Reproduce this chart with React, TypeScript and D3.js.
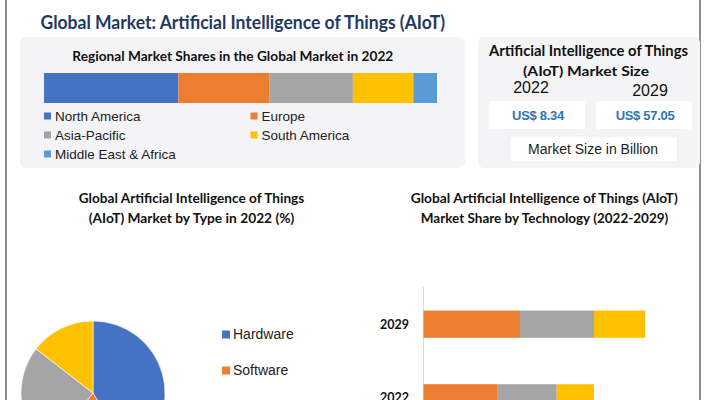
import React from "react";
import * as d3 from "d3";

const regions = ["North America", "Europe", "Asia-Pacific", "South America", "Middle East & Africa"];
const regionShares = [34.2, 23.2, 21.2, 15.4, 6.0];
const regionColors = ["#4472c4", "#ed7d31", "#a5a5a5", "#ffc000", "#5b9bd5"];

const sizeYears = ["2022", "2029"];
const sizeValues = [8.34, 57.05];

const types = ["Hardware", "Software", "Services", "Platform"];
const typeShares = [41.5, 19, 25, 14.5];
const typeColors = ["#4472c4", "#ed7d31", "#a5a5a5", "#ffc000"];

const techYears = ["2029", "2022"];
const techSeries = ["Machine Learning", "Computer Vision", "Others"];
const techColors = ["#ed7d31", "#a5a5a5", "#ffc000"];
const techValues = [
  [38.6, 29.6, 20.4],
  [29.7, 23.6, 14.9],
];

const BOLD = "Lato, 'Open Sans', sans-serif";
const SANS = "'Liberation Sans', Arial, sans-serif";

type TProps = { x: number; y: number; w: number; size: number; children: React.ReactNode; fill?: string };
function Title({ x, y, w, size, children, fill = "#111" }: TProps) {
  return (
    <text x={x} y={y} textLength={w} lengthAdjust="spacingAndGlyphs" dominantBaseline="central" fontFamily={BOLD} fontWeight={700} fontSize={size} fill={fill}>
      {children}
    </text>
  );
}

export default function App() {
  const rx = d3.scaleLinear().domain([0, d3.sum(regionShares)]).range([44, 437]);
  const cum: number[] = [];
  regionShares.reduce((a, v, i) => { cum[i] = a; return a + v; }, 0);

  const pie = d3.pie<number>().sort(null).value((d) => d)(typeShares);
  const arc = d3.arc<d3.PieArcDatum<number>>().innerRadius(0).outerRadius(72);

  const ty = d3.scaleBand().domain(techYears).range([287, 435]).paddingInner(0.63).paddingOuter(0.32);
  const tx = d3.scaleLinear().domain([0, 100]).range([423.5, 673.5]);

  const legendRowY = d3.scaleLinear().domain([0, 1]).range([116, 135]);

  return (
    <svg width={708} height={400} style={{ position: "absolute", left: 0, top: 0, background: "#fff" }}>
      <rect x={0} y={0} width={708} height={400} fill="#fff" />
      <line x1={6} y1={0} x2={6} y2={400} stroke="#444" strokeWidth={1.2} />
      <line x1={700} y1={0} x2={700} y2={400} stroke="#444" strokeWidth={1.2} />

      <Title x={40.5} y={21.5} w={404.5} size={18.5} fill="#1f3864">
        Global Market: Artificial Intelligence of Things (AIoT)
      </Title>

      {/* Regional panel */}
      <rect x={20} y={37} width={445} height={131} rx={6} fill="#f4f4f6" />
      <Title x={72.3} y={55} w={321} size={14}>Regional Market Shares in the Global Market in 2022</Title>
      {regionShares.map((v, i) => (
        <rect key={regions[i]} x={rx(cum[i])} y={73} width={rx(cum[i] + v) - rx(cum[i])} height={30} fill={regionColors[i]} />
      ))}
      {regions.map((r, i) => {
        const col = i % 2;
        const row = Math.floor(i / 2);
        const x = col === 0 ? 44 : 250.5;
        const y = legendRowY(row);
        return (
          <g key={r}>
            <rect x={x} y={y - 3.5} width={7} height={7} fill={regionColors[i]} />
            <text x={x + 11} y={y} dominantBaseline="central" fontFamily={SANS} fontSize={13.5} fill="#222">{r}</text>
          </g>
        );
      })}

      {/* Market size panel */}
      <rect x={478} y={37} width={222} height={131} rx={6} fill="#f4f4f6" />
      <Title x={489} y={50} w={199} size={14.5}>Artificial Intelligence of Things</Title>
      <Title x={523} y={70.5} w={126} size={14}>(AIoT) Market Size</Title>
      {sizeYears.map((yr, i) => (
        <g key={yr}>
          <text x={i === 0 ? 531 : 650} y={i === 0 ? 87.5 : 90.5} textAnchor="middle" dominantBaseline="central" fontFamily={SANS} fontSize={16} fill="#111">{yr}</text>
          <rect x={i === 0 ? 489 : 596} y={101} width={96} height={28} rx={2} fill="#fff" />
          <text x={i === 0 ? 538 : 645} y={115} textAnchor="middle" dominantBaseline="central" fontFamily={SANS} fontWeight={700} fontSize={13} fill="#2e75b6" letterSpacing={-0.3}>
            {`US$ ${sizeValues[i].toFixed(2)}`}
          </text>
        </g>
      ))}
      <rect x={509.5} y={136} width={168} height={26} fill="#fff" stroke="#ececec" strokeWidth={1} />
      <text x={593} y={148.5} textAnchor="middle" dominantBaseline="central" fontFamily={SANS} fontSize={14} fill="#222">Market Size in Billion</text>

      {/* Pie chart */}
      <Title x={78.7} y={198} w={225.6} size={13.5}>Global Artificial Intelligence of Things</Title>
      <Title x={88.7} y={217.5} w={205.6} size={13.5}>(AIoT) Market by Type in 2022 (%)</Title>
      <g transform="translate(93,393)">
        {pie.map((p, i) => (
          <path key={types[i]} d={arc(p) || ""} fill={typeColors[i]} stroke="#fff" strokeWidth={0.6} />
        ))}
      </g>
      {types.map((t, i) => {
        const y = 334 + i * 36;
        if (y > 392) return null;
        return (
          <g key={t}>
            <rect x={222} y={y - 3.5} width={8} height={8} fill={typeColors[i]} />
            <text x={233} y={y} dominantBaseline="central" fontFamily={SANS} fontSize={14} fill="#222">{t}</text>
          </g>
        );
      })}

      {/* Tech stacked bars */}
      <Title x={410.7} y={198} w={267} size={13.5}>Global Artificial Intelligence of Things (AIoT)</Title>
      <Title x={420.7} y={217.5} w={247.6} size={13.5}>Market Share by Technology (2022-2029)</Title>
      <line x1={423.5} y1={287} x2={423.5} y2={400} stroke="#d9d9d9" strokeWidth={1} />
      {techYears.map((yr, yi) => {
        let acc = 0;
        const y0 = ty(yr) as number;
        return (
          <g key={yr}>
            {techValues[yi].map((v, si) => {
              const x0 = tx(acc);
              acc += v;
              return <rect key={techSeries[si]} x={x0} y={y0} width={tx(acc) - x0} height={ty.bandwidth()} fill={techColors[si]} />;
            })}
            <text x={409} y={y0 + ty.bandwidth() / 2} textAnchor="end" dominantBaseline="central" fontFamily={BOLD} fontWeight={700} fontSize={12.5} fill="#111">{yr}</text>
          </g>
        );
      })}
    </svg>
  );
}
